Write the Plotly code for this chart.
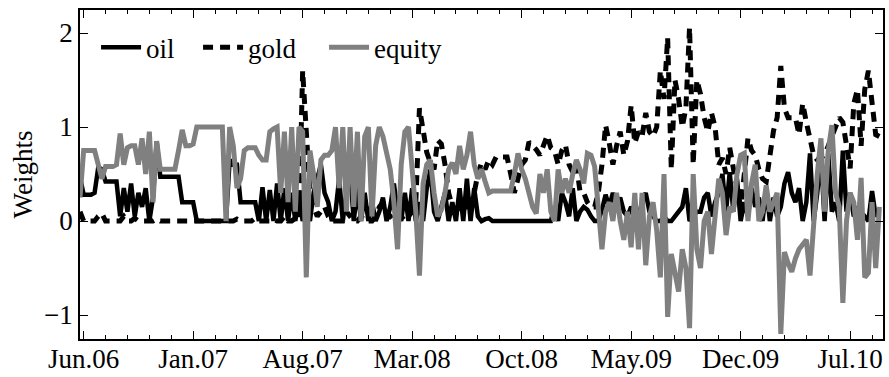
import plotly.graph_objects as go

# weekly observation index
weeks = list(range(220))

tick_positions = [1, 31, 61, 91, 121, 151, 181, 211]
tick_labels = ["Jun.06", "Jan.07", "Aug.07", "Mar.08", "Oct.08", "May.09", "Dec.09", "Jul.10"]

oil = [
    0.47, 0.28, 0.28, 0.28, 0.3, 0.57, 0.55, 0.42, 0.42, 0.42, 0.42,
    0.05, 0.35, 0.1, 0.4, 0.05, 0.3, 0.15, 0.35, 0.0, 0.25,
    0.85, 0.47, 0.47, 0.47, 0.47, 0.47, 0.47, 0.2, 0.2, 0.2, 0.2,
    0.0, 0.0, 0.0, 0.0, 0.0, 0.0, 0.0, 0.0, 0.0,
    0.65, 0.6, 0.6, 0.2, 0.2, 0.2, 0.2, 0.2, 0.0, 0.36,
    0.0, 0.33, 0.0, 0.4, 0.0, 0.35, 0.0, 0.3, 0.0, 0.3,
    0.0, 0.1, 0.0, 0.3, 0.45, 0.6, 0.3, 0.2, 0.0, 0.1,
    0.45, 0.0, 0.3, 0.55, 0.0, 0.35, 0.0, 0.3, 0.0, 0.2,
    0.0, 0.1, 0.25, 0.0, 0.15, 0.4, 0.1, 0.0, 0.3, 0.0,
    0.35, 0.0, 0.2, 0.0, 0.35, 0.55, 0.1, 0.0, 0.15, 0.3,
    0.0, 0.2, 0.0, 0.35, 0.0, 0.45, 0.0, 0.35, 0.05, 0.0,
    0.02, 0.03, 0.0, 0.0, 0.0, 0.0, 0.0, 0.0, 0.0, 0.0,
    0.0, 0.0, 0.0, 0.0, 0.0, 0.0, 0.0, 0.0, 0.0, 0.15,
    0.0, 0.3, 0.2, 0.05, 0.35, 0.0, 0.1, 0.15, 0.12, 0.05,
    0.0, 0.0, 0.12, 0.28, 0.15, 0.3, 0.15, 0.25, 0.1, 0.05,
    0.15, 0.08, 0.05, 0.2, 0.3, 0.1, 0.05, 0.0, 0.0, 0.05,
    0.0, 0.0, 0.05, 0.1, 0.15, 0.35, 0.0, 0.05, 0.1, 0.1,
    0.25, 0.3, 0.05, 0.2, 0.3, 0.5, 0.1, 0.52, 0.1, 0.45,
    0.0, 0.2, 0.05, 0.35, 0.15, 0.25, 0.0, 0.35, 0.0, 0.25,
    0.05, 0.15, 0.4, 0.52, 0.3, 0.2, 0.35, 0.0, 0.2, 0.72,
    0.0, 0.3, 0.7, 0.0, 0.72, 0.1, 0.2, 0.0, 0.75, 0.1,
    0.3, 0.05, 0.15, 0.0, 0.05, 0.0, 0.32, 0.05, 0.1,
]

gold = [
    0.1, 0.0, 0.0, 0.0, 0.0, 0.05, 0.08, 0.0, 0.0, 0.0, 0.0,
    0.0, 0.05, 0.0, 0.0, 0.03, 0.0, 0.0, 0.0, 0.0, 0.0,
    0.02, 0.0, 0.0, 0.0, 0.0, 0.0, 0.0, 0.0, 0.0, 0.0, 0.0,
    0.0, 0.0, 0.0, 0.0, 0.0, 0.0, 0.0, 0.0, 0.0,
    0.0, 0.0, 0.02, 0.0, 0.0, 0.0, 0.0, 0.03, 0.0, 0.0,
    0.0, 0.0, 0.02, 0.0, 0.0, 0.05, 0.0, 0.0, 0.03, 0.0,
    1.6, 0.95, 0.3, 0.15, 0.05, 0.1, 0.15, 0.05, 0.0, 0.0,
    0.0, 0.0, 0.1, 0.05, 0.0, 0.0, 0.05, 0.0, 0.0, 0.0,
    0.05, 0.15, 0.2, 0.1, 0.05, 0.0, 0.0, 0.05, 0.0, 0.05,
    0.1, 0.2, 1.2, 0.97, 0.73, 0.62, 0.55, 0.86, 0.82, 0.6,
    0.3, 0.15, 0.05, 0.2, 0.25, 0.1, 0.2, 0.3, 0.5, 0.62,
    0.55, 0.65, 0.6, 0.68, 0.68, 0.68, 0.68, 0.5, 0.3, 0.45,
    0.6, 0.65, 0.84, 0.8, 0.76, 0.7, 0.8, 0.91, 0.78, 0.75,
    0.6, 0.75, 0.81, 0.6, 0.52, 0.6, 0.31, 0.3, 0.2, 0.15,
    0.15, 0.3, 0.6, 1.02, 0.83, 0.6, 0.8, 0.95, 0.7, 0.85,
    1.23, 0.83, 0.95, 0.9, 1.15, 0.95, 0.9, 1.0, 1.6, 1.3,
    1.95, 0.55, 1.5, 1.3, 1.0, 1.2, 2.06, 0.6, 1.5, 1.35,
    1.1, 0.95, 1.15, 1.0, 0.6, 0.67, 0.5, 0.78, 0.56, 0.35,
    0.15, 0.5, 0.88, 0.75, 0.7, 0.55, 0.45, 0.42, 0.7, 0.96,
    1.1, 1.65, 1.2, 1.1, 1.1, 1.1, 0.92, 1.25, 1.05, 0.85,
    0.7, 0.65, 0.67, 0.7, 0.8, 0.9, 1.0, 1.1, 1.05, 0.8,
    0.56, 1.25, 1.4, 0.8, 1.4, 1.6, 1.2, 0.92, 0.9,
]

equity = [
    0.25, 0.75, 0.75, 0.75, 0.75, 0.6, 0.45, 0.58, 0.58, 0.58, 0.6,
    0.93, 0.6, 0.78, 0.8, 0.8, 0.6, 0.88, 0.5, 0.95, 0.2,
    0.85, 0.55, 0.55, 0.55, 0.55, 0.55, 0.75, 0.97, 0.8, 0.8, 0.82,
    1.0, 1.0, 1.0, 1.0, 1.0, 1.0, 1.0, 1.0, 0.0,
    1.0, 0.8, 0.35, 0.45, 0.75, 0.78, 0.78, 0.78, 0.7, 0.65,
    0.65, 0.95, 0.98, 1.0, 0.3, 0.95, 0.2, 1.0, 0.1, 1.0,
    0.95, -0.6, 0.75, 0.5, 0.15, 0.65, 0.7, 0.7, 0.75, 1.0,
    0.35, 1.0, 0.1, 1.0, 0.15, 0.95, 0.0, 0.9, 1.0, 0.05,
    0.8, 1.0, 0.9, 0.7, 0.55, 0.2, -0.3, 0.6, 0.95, 1.0,
    0.5, 0.1, -0.58, 0.4, 0.6, 0.65, 0.3, 0.05, 0.12, 0.3,
    0.55, 0.62, 0.5, 0.8, 0.55, 0.7, 0.95, 0.6, 0.45, 0.55,
    0.42, 0.3, 0.32, 0.32, 0.32, 0.32, 0.32, 0.32, 0.5, 0.72,
    0.55, 0.45, 0.3, 0.15, 0.08, 0.5, 0.3, 0.55, 0.1, 0.0,
    0.55, 0.3, 0.45, 0.3, 0.5, 0.65, 0.55, 0.4, 0.72, 0.7,
    0.58, 0.2, -0.3, 0.1, 0.2, 0.0, 0.3, 0.0, -0.2, 0.1,
    -0.28, 0.3, -0.3, 0.3, -0.47, 0.05, 0.2, -0.1, -0.6, 0.5,
    -1.02, -0.35, -0.55, -0.75, -0.3, -0.5, -1.14, 0.5, -0.3, -0.5,
    0.0, 0.1, -0.35, 0.1, 0.45, 0.3, -0.15, 0.15, 0.1, 0.5,
    0.7, 0.72, 0.0, 0.4, 0.6, 0.0, 0.1, 0.38, 0.1, 0.2,
    0.3, -1.2, -0.33, -0.45, -0.54, -0.4, -0.3, -0.25, -0.2, -0.58,
    0.0, 0.5, 0.88, 0.1, 0.75, 1.02, 0.3, 0.15, -0.87, 0.0,
    0.3, 0.2, -0.2, 0.46, -0.6, -0.55, 0.2, -0.5, 0.15,
]

FONT = "Liberation Serif"

fig = go.Figure()
fig.add_trace(go.Scatter(x=weeks, y=oil, mode="lines", name="oil", legendwidth=47,
                         line=dict(color="#000000", width=4.5)))
fig.add_trace(go.Scatter(x=weeks, y=gold, mode="lines", name="gold", legendwidth=71,
                         line=dict(color="#000000", width=5, dash="10px,7px")))
fig.add_trace(go.Scatter(x=weeks, y=equity, mode="lines", name="equity",
                         line=dict(color="#808080", width=5)))

fig.update_layout(
    width=889, height=377,
    margin=dict(l=80, r=6, t=10, b=38),
    plot_bgcolor="white", paper_bgcolor="white",
    font=dict(family=FONT, size=27, color="black"),
    showlegend=True,
    legend=dict(orientation="h", x=0.02, y=0.96, xanchor="left", yanchor="top",
                bgcolor="rgba(0,0,0,0)", font=dict(size=27, family=FONT),
                itemwidth=40, tracegroupgap=0),
)
fig.update_xaxes(
    range=[0, 220], tickmode="array", tickvals=tick_positions, ticktext=tick_labels,
    ticks="inside", ticklen=8, tickwidth=1.2, tickcolor="black",
    showline=True, linecolor="black", linewidth=1.5, mirror="ticks",
    showgrid=False, zeroline=False, automargin=False, ticklabelstandoff=-5,
    minor=dict(tickmode="linear", tick0=1, dtick=6, ticks="inside", ticklen=4,
               tickwidth=1, tickcolor="black", showgrid=False),
    tickfont=dict(size=27, family=FONT),
)
fig.update_yaxes(
    range=[-1.255, 2.245], tickvals=[-1, 0, 1, 2], ticktext=["\u22121", "0", "1", "2"],
    ticks="inside", ticklen=8, tickwidth=1.2, tickcolor="black",
    showline=True, linecolor="black", linewidth=1.5, mirror="ticks",
    showgrid=False, zeroline=False, automargin=False,
    title=dict(text="Weights", font=dict(size=27, family=FONT), standoff=4),
    tickfont=dict(size=27, family=FONT),
)

fig.write_html(
    "out.html",
    config={"displayModeBar": False},
    post_script="document.body.style.margin='0';document.body.style.overflow='hidden';",
)
